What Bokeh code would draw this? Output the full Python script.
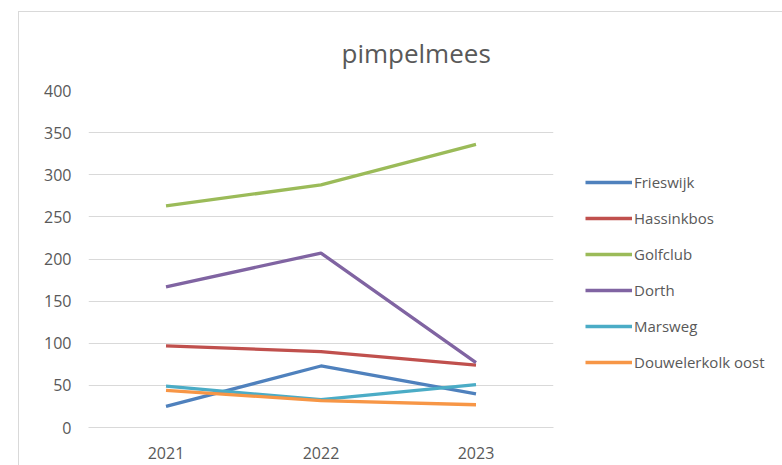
from bokeh.plotting import figure
from bokeh.models import Legend, LegendItem, Title
from bokeh.embed import file_html
from bokeh.resources import INLINE

years = ["2021", "2022", "2023"]
frieswijk = [25, 73, 40]
hassinkbos = [97, 90, 74]
golfclub = [263, 288, 336]
dorth = [167, 207, 77]
marsweg = [49, 33, 51]
douwelerkolk = [44, 32, 27]

series = [
    ("Frieswijk", frieswijk, "#4F81BD"),
    ("Hassinkbos", hassinkbos, "#C0504D"),
    ("Golfclub", golfclub, "#9BBB59"),
    ("Dorth", dorth, "#8064A2"),
    ("Marsweg", marsweg, "#4BACC6"),
    ("Douwelerkolk oost", douwelerkolk, "#F79646"),
]

FONT = "Open Sans"
TXT = "#595959"

p = figure(x_range=years, y_range=(0, 400), frame_width=465, frame_height=337,
           output_backend="svg", toolbar_location=None,
           min_border_left=69, min_border_right=0,
           min_border_top=78, min_border_bottom=38)
p.margin = (11, 0, 0, 18)
p.styles = {"border-top": "1px solid #d9d9d9", "border-left": "1px solid #d9d9d9"}
p.outline_line_color = None
p.background_fill_color = "white"
p.border_fill_color = "white"

p.title = Title(text="pimpelmees", align="left", offset=253, standoff=39,
                text_font=FONT, text_font_size="26px", text_font_style="normal",
                text_color=TXT)

p.xgrid.grid_line_color = None
p.ygrid.grid_line_color = "#d9d9d9"
p.ygrid.grid_line_width = 1
p.yaxis.ticker = [0, 50, 100, 150, 200, 250, 300, 350, 400]

for ax in (p.xaxis, p.yaxis):
    ax.major_tick_line_color = None
    ax.minor_tick_line_color = None
    ax.major_label_text_font = FONT
    ax.major_label_text_font_size = "16px"
    ax.major_label_text_color = TXT
p.yaxis.axis_line_color = None
p.yaxis.major_label_standoff = 11
p.xaxis.axis_line_color = "#d9d9d9"
p.xaxis.major_label_standoff = 13

items = []
for name, vals, color in series:
    r = p.line(years, vals, line_color=color, line_width=3.3)
    items.append(LegendItem(label=name, renderers=[r]))

legend = Legend(items=items, location=(32, 55), orientation="vertical",
                padding=0, margin=0, spacing=16, glyph_width=47, glyph_height=20,
                label_height=20, label_standoff=2,
                label_text_font=FONT, label_text_font_size="15px",
                label_text_color=TXT, border_line_color=None,
                background_fill_alpha=0)
p.add_layout(legend, "right")

open("out.html", "w").write(file_html(p, INLINE))
